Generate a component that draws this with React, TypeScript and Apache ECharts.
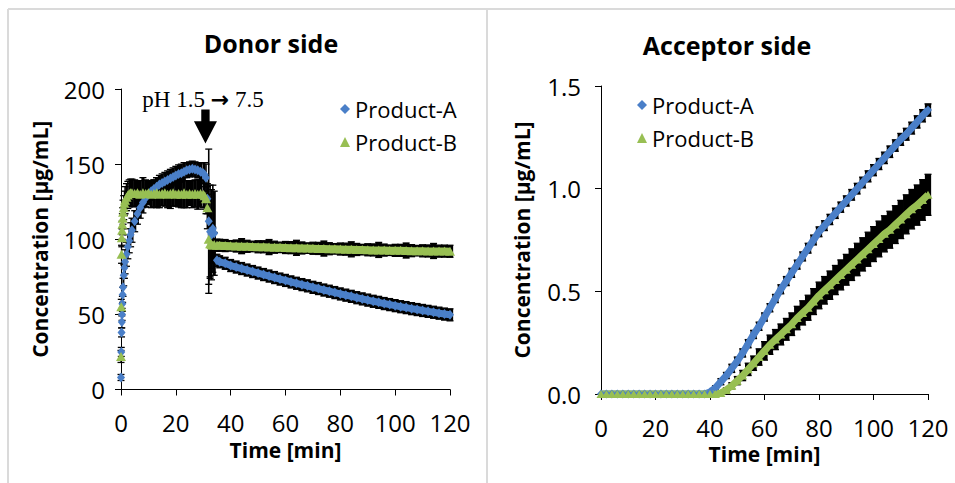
import React, { useEffect, useRef } from 'react';
import * as echarts from 'echarts';

const FONT = '"Open Sans", "Noto Sans", sans-serif';
const BLUE = '#4a7fc8';
const GREEN = '#98bf53';

// ---------- Donor side ----------
const donorTime = [0, 0.1, 0.2, 0.3, 0.4, 0.5, 0.6, 0.75, 1, 1.25, 1.5, 2, 2.5, 3, 3.5, 4,
  5, 6, 7, 8, 9, 10, 11, 12, 13, 14, 15, 16, 17, 18, 19, 20, 21, 22, 23, 24, 25, 26, 27, 28, 29, 30,
  30.5, 31, 31.5, 32, 32.5, 33, 33.5, 34, 35, 36,
  38, 40, 42, 44, 46, 48, 50, 52, 54, 56, 58, 60, 62, 64, 66, 68, 70, 72, 74, 76, 78, 80,
  82, 84, 86, 88, 90, 92, 94, 96, 98, 100, 102, 104, 106, 108, 110, 112, 114, 116, 118, 120];

const donorA = [8, 25, 38, 45, 50, 57, 63, 68, 76, 81, 85, 90, 95, 99, 103, 106,
  112, 117, 121, 124.5, 127.5, 130, 132, 133.5, 135, 136.5, 137.5, 138.5, 139.5, 140.5, 141.5, 142.5, 143.5, 144, 145, 146, 146.5, 147, 146.5, 146, 145, 144,
  143, 141, 127, 112, 105, 103, 107, 104, 86, 85,
  84, 82.5, 81.5, 80.5, 79.5, 78.5, 77.5, 76.5, 75.5, 74.5, 73.5, 72.6, 71.6, 70.7, 69.8, 69, 68, 67.2, 66.2, 65.4, 64.5, 63.6,
  62.8, 62, 61.1, 60.3, 59.5, 58.7, 58, 57.2, 56.5, 55.8, 55.1, 54.5, 53.8, 53.2, 52.6, 52, 51.4, 50.8, 50.2, 49.7];

const donorAErr = [2, 3, 3, 4, 4, 5, 5, 6, 7, 7, 8, 8, 8, 8, 8, 8,
  7, 7, 7, 7, 6, 6, 6, 6, 6, 6, 6, 6, 6, 6, 6, 6, 6, 6, 6, 5, 5, 5, 5, 5, 6, 7,
  8, 9, 10, 48, 31, 30, 29, 28, 4, 4,
  4, 4, 4, 4, 4, 4, 4, 4, 4, 4, 4, 4, 4, 4, 4, 4, 4, 4, 4, 4, 4, 4,
  4, 4, 4, 4, 4, 4, 4, 4, 4, 4, 4, 4, 4, 4, 4, 4, 4, 4, 4, 4];

const donorB = [22, 55, 90, 101, 106, 110, 114, 118, 121, 124, 126, 128, 129.5, 130.5, 131, 131,
  130.5, 131, 130, 131, 130.5, 131, 130, 130.5, 131, 130, 130.5, 131, 130, 130.5, 131, 130, 130.5, 130, 131, 130, 130.5, 130, 130.5, 130, 130.5, 130,
  129, 127, 121, 100, 97, 96.5, 96, 96.5, 96, 96,
  95.8, 95.6, 95.5, 95.4, 95.3, 95.2, 95, 95, 94.8, 94.7, 94.6, 94.5, 94.4, 94.3, 94.2, 94.1, 94, 93.9, 93.8, 93.7, 93.6, 93.5,
  93.4, 93.3, 93.2, 93.1, 93, 92.9, 92.9, 92.8, 92.7, 92.6, 92.6, 92.5, 92.4, 92.4, 92.3, 92.2, 92.2, 92.1, 92.1, 92];

const donorBErr = [4, 5, 6, 6, 6, 7, 7, 8, 8, 8, 9, 9, 9, 9, 9, 9,
  9, 8, 9, 10, 9, 8, 9, 9, 10, 9, 8, 9, 9, 10, 9, 8, 9, 9, 10, 9, 8, 9, 9, 10, 9, 9,
  9, 10, 14, 30, 22, 16, 12, 8, 4, 4,
  4, 3.5, 4, 5, 4, 3.5, 4, 4, 5, 4, 3.5, 4, 4, 5, 4, 3.5, 4, 4, 5, 4, 3.5, 4,
  4, 5, 4, 3.5, 4, 4, 5, 4, 3.5, 4, 4, 5, 4, 3.5, 4, 4, 5, 4, 4, 4];

// ---------- Acceptor side ----------
const accTime = [0, 2, 4, 6, 8, 10, 12, 14, 16, 18, 20, 22, 24, 26, 28, 30, 32, 34, 36, 38,
  40, 42, 44, 46, 48, 50, 52, 54, 56, 58, 60, 62, 64, 66, 68, 70, 72, 74, 76, 78,
  80, 82, 84, 86, 88, 90, 92, 94, 96, 98, 100, 102, 104, 106, 108, 110, 112, 114, 116, 118, 120];

const accA = [0, 0, 0, 0, 0, 0, 0, 0, 0, 0, 0, 0, 0, 0, 0, 0, 0, 0, 0, 0,
  0.01, 0.03, 0.06, 0.09, 0.125, 0.16, 0.2, 0.245, 0.29, 0.33,
  0.375, 0.42, 0.465, 0.51, 0.55, 0.59, 0.63, 0.67, 0.71, 0.75,
  0.79, 0.82, 0.85, 0.88, 0.91, 0.94, 0.97, 1.0, 1.03, 1.06,
  1.09, 1.12, 1.15, 1.18, 1.21, 1.24, 1.265, 1.295, 1.325, 1.355, 1.383];

const accAErr = [0, 0, 0, 0, 0, 0, 0, 0, 0, 0, 0, 0, 0, 0, 0, 0, 0, 0, 0, 0,
  0.005, 0.01, 0.015, 0.015, 0.02, 0.02, 0.02, 0.02, 0.02, 0.02,
  0.02, 0.02, 0.02, 0.022, 0.022, 0.022, 0.022, 0.022, 0.024, 0.024,
  0.024, 0.024, 0.025, 0.025, 0.025, 0.025, 0.026, 0.026, 0.026, 0.027,
  0.027, 0.027, 0.028, 0.028, 0.028, 0.029, 0.029, 0.029, 0.03, 0.03, 0.03];

const accB = [0, 0, 0, 0, 0, 0, 0, 0, 0, 0, 0, 0, 0, 0, 0, 0, 0, 0, 0, 0, 0, 0,
  0.005, 0.02, 0.04, 0.065, 0.09, 0.12, 0.15, 0.18,
  0.21, 0.24, 0.265, 0.29, 0.315, 0.34, 0.37, 0.395, 0.42, 0.45,
  0.48, 0.505, 0.53, 0.555, 0.58, 0.605, 0.63, 0.655, 0.68, 0.705,
  0.73, 0.755, 0.78, 0.8, 0.825, 0.85, 0.875, 0.9, 0.92, 0.945, 0.97];

const accBErr = [0, 0, 0, 0, 0, 0, 0, 0, 0, 0, 0, 0, 0, 0, 0, 0, 0, 0, 0, 0, 0, 0,
  0.005, 0.01, 0.015, 0.02, 0.025, 0.03, 0.035, 0.04,
  0.045, 0.047, 0.049, 0.051, 0.053, 0.055, 0.057, 0.059, 0.061, 0.063,
  0.065, 0.067, 0.069, 0.071, 0.073, 0.075, 0.077, 0.079, 0.081, 0.083,
  0.085, 0.087, 0.088, 0.09, 0.092, 0.093, 0.095, 0.096, 0.098, 0.099, 0.1];

const donorTicks = { min: 0, max: 200, interval: 50 };
const accTicks = { min: 0, max: 1.5, interval: 0.5 };
const timeTicks = { min: 0, max: 120, interval: 20 };

const pairs = (t: number[], v: number[]) => t.map((x, i) => [x, v[i]]);
const triples = (t: number[], v: number[], e: number[]) => t.map((x, i) => [x, v[i], e[i]]);

// error bars: the stroke of each bar spans the gap to the next sample so dense bars merge
const makeErrRender = (times: number[]) => (params: any, api: any) => {
  const i = params.dataIndex;
  const x = api.value(0);
  const y = api.value(1);
  const e = api.value(2);
  if (!e) return null;
  const top = api.coord([x, y + e]);
  const bot = api.coord([x, y - e]);
  const dt = i < times.length - 1 ? times[i + 1] - times[i] : times[i] - times[i - 1];
  const px = api.size([dt, 0])[0];
  const lw = Math.max(1.3, Math.min(7, px * 1.15));
  const w = 3.5;
  const cap = { stroke: '#000', lineWidth: 1.3 };
  return {
    type: 'group',
    children: [
      { type: 'line', shape: { x1: top[0], y1: top[1], x2: bot[0], y2: bot[1] }, style: { stroke: '#000', lineWidth: lw } },
      { type: 'line', shape: { x1: top[0] - w, y1: top[1], x2: top[0] + w, y2: top[1] }, style: cap },
      { type: 'line', shape: { x1: bot[0] - w, y1: bot[1], x2: bot[0] + w, y2: bot[1] }, style: cap },
    ],
  };
};

const axisCommon = {
  type: 'value',
  axisLine: { show: true, onZero: false, lineStyle: { color: '#000', width: 1 } },
  axisTick: { show: true, inside: false, length: 6, lineStyle: { color: '#000', width: 1 } },
  splitLine: { show: false },
  nameLocation: 'middle',
  nameTextStyle: { fontSize: 21, fontWeight: 'bold', fontFamily: FONT, color: '#000' },
};

const labelStyle = { fontSize: 24, fontFamily: FONT, color: '#000' };

export default function App() {
  const ref = useRef<HTMLDivElement>(null);

  useEffect(() => {
    document.body.style.margin = '0';
    if (!ref.current) return;
    const chart = echarts.init(ref.current, null, { renderer: 'svg' });

    const donorLineA = pairs(donorTime, donorA).filter((p) => p[0] >= 35);
    const donorLineB = pairs(donorTime, donorB).filter((p) => p[0] >= 35);

    const errSeries = (xi: number, times: number[], data: number[][]) => ({
      type: 'custom',
      xAxisIndex: xi,
      yAxisIndex: xi,
      renderItem: makeErrRender(times),
      data,
      encode: { x: 0, y: 1 },
      z: 2,
      silent: true,
    });
    const bandSeries = (xi: number, data: number[][], color: string, w: number) => ({
      type: 'line',
      xAxisIndex: xi,
      yAxisIndex: xi,
      data,
      showSymbol: false,
      lineStyle: { color, width: w },
      itemStyle: { color },
      z: 3,
      silent: true,
    });
    const markerSeries = (xi: number, name: string, data: number[][], color: string, symbol: string, size: number[], extra: any = {}) => ({
      type: 'scatter',
      name,
      xAxisIndex: xi,
      yAxisIndex: xi,
      data,
      symbol,
      symbolSize: size,
      itemStyle: { color, opacity: 1 },
      z: 4,
      silent: true,
      ...extra,
    });

    const legendCommon = {
      orient: 'vertical',
      itemWidth: 10,
      itemHeight: 10,
      itemGap: 11,
      selectedMode: false,
      textStyle: { fontSize: 22, fontFamily: FONT, color: '#000' },
      data: [
        { name: 'Product-A', icon: 'diamond' },
        { name: 'Product-B', icon: 'triangle' },
      ],
    };

    chart.setOption({
      animation: false,
      backgroundColor: '#fff',
      grid: [
        { left: 121, top: 89, width: 329, height: 300.5 },
        { left: 601, top: 86, width: 327, height: 308 },
      ],
      legend: [
        { ...legendCommon, left: 335, top: 93 },
        { ...legendCommon, left: 632, top: 89 },
      ],
      xAxis: [
        { ...axisCommon, gridIndex: 0, ...timeTicks, name: 'Time [min]', nameGap: 48, axisLabel: { ...labelStyle, margin: 21 } },
        { ...axisCommon, gridIndex: 1, ...timeTicks, name: 'Time [min]', nameGap: 49, axisLabel: { ...labelStyle, margin: 21 } },
      ],
      yAxis: [
        { ...axisCommon, gridIndex: 0, ...donorTicks, name: 'Concentration [µg/mL]', nameRotate: 90, nameGap: 71, axisLabel: { ...labelStyle, margin: 16 } },
        {
          ...axisCommon, gridIndex: 1, ...accTicks, name: 'Concentration [µg/mL]', nameRotate: 90, nameGap: 69,
          axisLabel: { ...labelStyle, margin: 20, formatter: (v: number) => v.toFixed(1) },
        },
      ],
      graphic: [
        { type: 'line', shape: { x1: 8, y1: 9, x2: 955, y2: 9 }, style: { stroke: '#dadada', lineWidth: 2 }, silent: true },
        { type: 'line', shape: { x1: 8, y1: 9, x2: 8, y2: 483 }, style: { stroke: '#dadada', lineWidth: 2 }, silent: true },
        { type: 'line', shape: { x1: 487, y1: 9, x2: 487, y2: 483 }, style: { stroke: '#dadada', lineWidth: 2 }, silent: true },
        { type: 'text', x: 271, y: 43, style: { text: 'Donor side', fontSize: 25, fontWeight: 'bold', fontFamily: FONT, fill: '#000', align: 'center', verticalAlign: 'middle' } },
        { type: 'text', x: 727, y: 45, style: { text: 'Acceptor side', fontSize: 25, fontWeight: 'bold', fontFamily: FONT, fill: '#000', align: 'center', verticalAlign: 'middle' } },
        {
          type: 'text', x: 203, y: 99,
          style: {
            text: 'pH 1.5 {a|→} 7.5',
            fontSize: 23, fontFamily: '"Liberation Serif", "DejaVu Serif", serif', fill: '#000', align: 'center', verticalAlign: 'middle',
            rich: { a: { fontSize: 22, fontFamily: '"DejaVu Sans", sans-serif', fontWeight: 'bold', fill: '#000' } },
          },
        },
      ],
      series: [
        errSeries(0, donorTime, triples(donorTime, donorA, donorAErr)),
        errSeries(0, donorTime, triples(donorTime, donorB, donorBErr)),
        bandSeries(0, donorLineA, BLUE, 7),
        markerSeries(0, 'Product-A', pairs(donorTime, donorA), BLUE, 'diamond', [8, 10], {
          markPoint: {
            symbol: 'path://M7,0 L15,0 L15,12 L22,12 L11,35 L0,12 L7,12 Z',
            symbolSize: [23, 34],
            data: [{ coord: [30.8, 175] }],
            itemStyle: { color: '#000' },
            label: { show: false },
            silent: true,
          },
        }),
        bandSeries(0, donorLineB, GREEN, 7),
        markerSeries(0, 'Product-B', pairs(donorTime, donorB), GREEN, 'triangle', [10, 9]),

        errSeries(1, accTime, triples(accTime, accA, accAErr)),
        errSeries(1, accTime, triples(accTime, accB, accBErr)),
        bandSeries(1, pairs(accTime, accA), BLUE, 7),
        markerSeries(1, 'Product-A', pairs(accTime, accA), BLUE, 'diamond', [8, 9]),
        bandSeries(1, pairs(accTime, accB), GREEN, 7),
        markerSeries(1, 'Product-B', pairs(accTime, accB), GREEN, 'triangle', [9, 8]),
      ],
    });

    return () => chart.dispose();
  }, []);

  return <div ref={ref} style={{ width: 955, height: 483 }} />;
}
